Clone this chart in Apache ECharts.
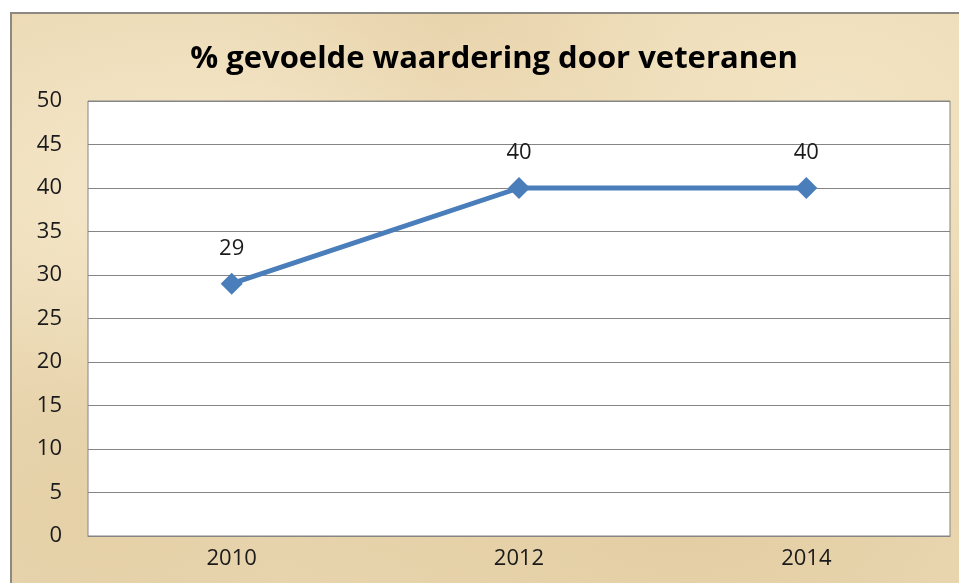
<!DOCTYPE html>
<html><head><meta charset="utf-8">
<script src="https://cdn.jsdelivr.net/npm/echarts@6/dist/echarts.min.js"></script>
<style>
html,body{margin:0;padding:0;background:#fff;width:959px;height:583px;overflow:hidden;}
#frame{position:absolute;left:10px;top:12px;width:960px;height:590px;border-top:2px solid #8c8a80;border-left:2px solid #8c8a80;
background:#ebd9b3;
background-image:
radial-gradient(ellipse at 20% 30%, rgba(255,245,225,0.55), rgba(255,245,225,0) 40%),
radial-gradient(ellipse at 70% 80%, rgba(215,188,140,0.45), rgba(215,188,140,0) 45%),
radial-gradient(ellipse at 85% 15%, rgba(250,238,210,0.5), rgba(250,238,210,0) 35%),
radial-gradient(ellipse at 10% 85%, rgba(220,195,150,0.4), rgba(220,195,150,0) 40%),
radial-gradient(ellipse at 45% 5%, rgba(225,200,155,0.4), rgba(225,200,155,0) 30%);}
#chart{position:absolute;left:0;top:0;width:959px;height:583px;}
</style></head>
<body>
<div id="frame"></div>
<div id="chart"></div>
<script>
const titleText = '% gevoelde waardering door veteranen';
const categories = ['2010', '2012', '2014'];
const values = [29, 40, 40];

const chart = echarts.init(document.getElementById('chart'), null, {renderer: 'canvas'});
chart.setOption({
  backgroundColor: 'transparent',
  animation: false,
  title: {
    text: titleText, left: 489, top: 39, textAlign: 'center',
    textStyle: {fontFamily: 'Open Sans', fontWeight: 'bold', fontSize: 31, color: '#000'}
  },
  grid: {left: 88, right: 9, top: 101, bottom: 47, show: true, backgroundColor: '#fff', borderColor: '#858585', borderWidth: 1},
  xAxis: {
    type: 'category', data: categories, boundaryGap: true,
    axisLine: {show: true, lineStyle: {color: '#858585'}}, axisTick: {show: false},
    axisLabel: {fontFamily: 'Open Sans', fontSize: 22, color: '#1a1a1a', margin: 12}
  },
  yAxis: {
    type: 'value', min: 0, max: 50, interval: 5,
    axisLine: {show: false}, axisTick: {show: false},
    splitLine: {lineStyle: {color: '#858585', width: 1}},
    axisLabel: {fontFamily: 'Open Sans', fontSize: 22, color: '#1a1a1a', margin: 26}
  },
  series: [{
    type: 'line', data: values,
    lineStyle: {color: '#4a7ebb', width: 5},
    itemStyle: {color: '#4a7ebb'},
    symbol: 'diamond', symbolSize: 22,
    label: {show: true, position: 'top', distance: 13, fontFamily: 'Open Sans', fontSize: 22, color: '#1a1a1a'}
  }]
});
</script>
</body></html>
